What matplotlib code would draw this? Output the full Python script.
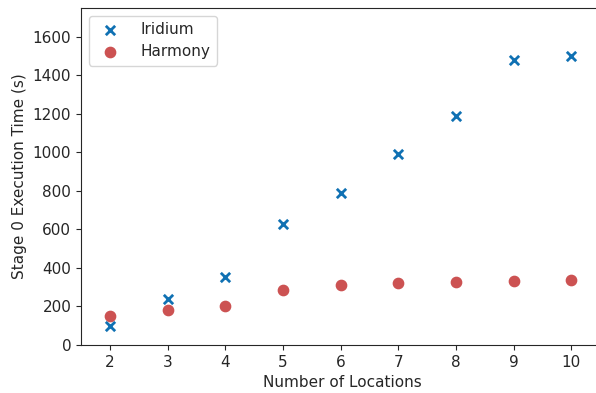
import matplotlib
matplotlib.use("Agg")
import matplotlib.pyplot as plt
import seaborn as sns

locations = [2, 3, 4, 5, 6, 7, 8, 9, 10]
iridium = [100, 240, 355, 630, 790, 990, 1190, 1480, 1500]
harmony = [150, 180, 200, 285, 312, 320, 328, 332, 337]

sns.set_style("ticks")
plt.rcParams["font.family"] = ["DejaVu Sans"]

fig = plt.figure(figsize=(5.96, 3.93), dpi=100)
# right edge of the axes sits just outside the figure (cropped like the original)
ax = fig.add_axes([81 / 596, 48 / 393, 522 / 596, 337 / 393])

ax.scatter(locations, iridium, marker="x", s=45, linewidths=2, color="#1071b3", label="Iridium")
ax.scatter(locations, harmony, marker="o", s=55, color="#cc5252", label="Harmony")

ax.set_xlim(1.5, 10.55)
ax.set_ylim(0, 1750)
ax.set_xticks(locations)
ax.set_yticks(range(0, 1601, 200))
ax.set_xlabel("Number of Locations", fontsize=11)
ax.set_ylabel("Stage 0 Execution Time (s)", fontsize=11)
ax.tick_params(labelsize=11)
ax.legend(loc="upper left", fontsize=11, handletextpad=1.0)

fig.savefig("out.png", dpi=100)
